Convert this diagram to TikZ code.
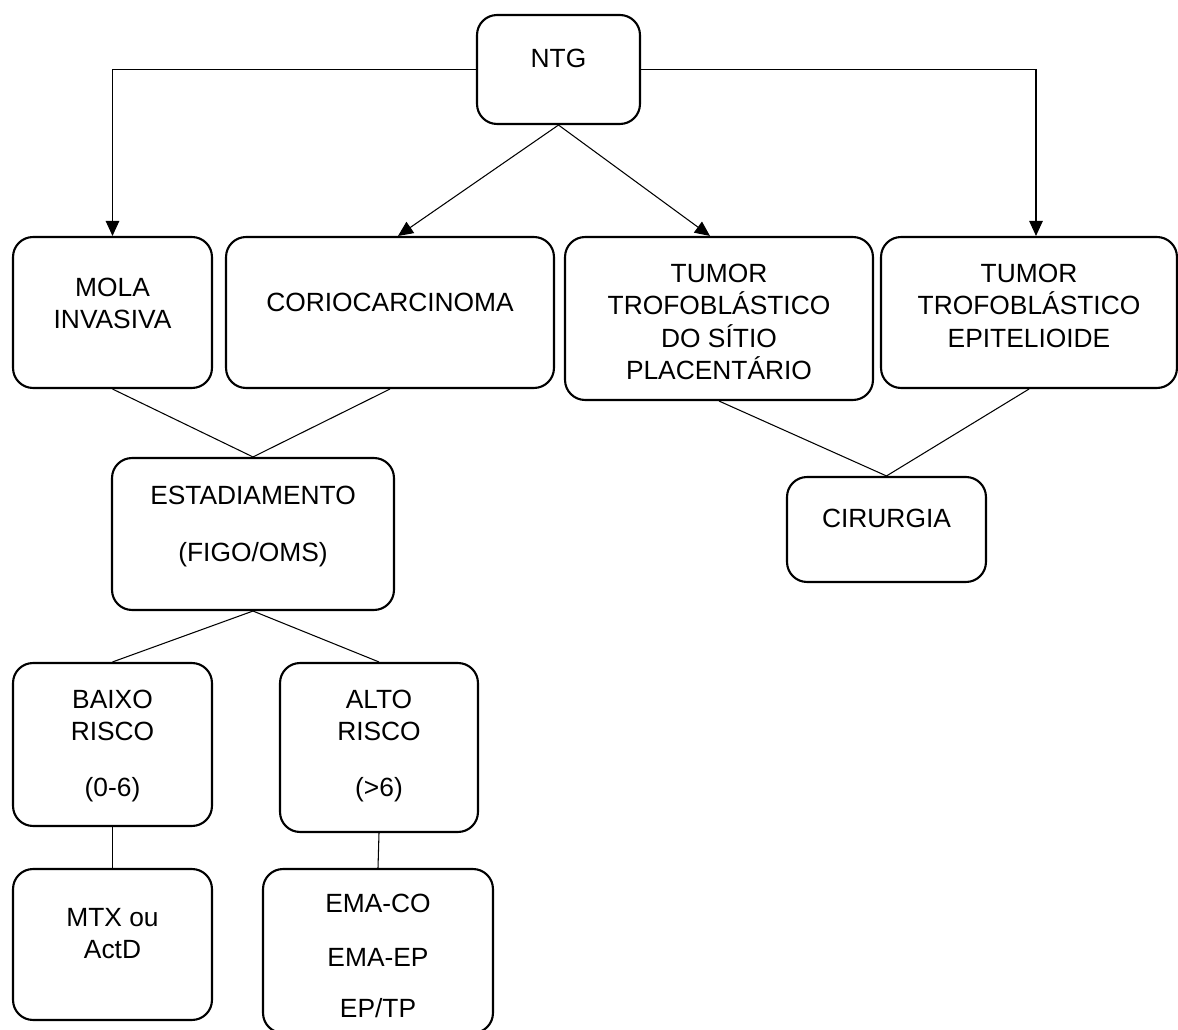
\documentclass[tikz,border=0pt]{standalone}
\usepackage{fontspec}
\setmainfont{Liberation Sans}
\usetikzlibrary{arrows.meta,calc}

\begin{document}
\begin{tikzpicture}[x=.02cm,y=-.02cm,>={Triangle[length=.3cm,width=.27cm]},line width=.6pt,every node/.style={font=\fontsize{15}{18.5}\selectfont},box/.style={draw,rounded corners=.4cm,line width=1.2pt,inner sep=0pt},txt/.style={anchor=north,align=center,inner sep=0pt}]
\path[use as bounding box] (0,0) rectangle (1178,1030);

% caixas
\node[box,minimum width=3.26cm,minimum height=2.18cm] (ntg) at (558.5,69.5) {};
\node[box,minimum width=3.98cm,minimum height=3.02cm] (mola) at (112.5,312.5) {};
\node[box,minimum width=6.56cm,minimum height=3.02cm] (corio) at (390,312.5) {};
\node[box,minimum width=6.16cm,minimum height=3.26cm] (sitio) at (719,318.5) {};
\node[box,minimum width=5.92cm,minimum height=3.02cm] (epit) at (1029,312.5) {};
\node[box,minimum width=5.64cm,minimum height=3.04cm] (estad) at (253,534) {};
\node[box,minimum width=3.98cm,minimum height=2.1cm] (cir) at (886.5,529.5) {};
\node[box,minimum width=3.98cm,minimum height=3.26cm] (baixo) at (112.5,744.5) {};
\node[box,minimum width=3.96cm,minimum height=3.38cm] (alto) at (379,747.5) {};
\node[box,minimum width=3.98cm,minimum height=3.02cm] (mtx) at (112.5,944.5) {};
\node[box,minimum width=4.6cm,minimum height=3.28cm] (ema) at (378,951) {};

% textos
\node[txt] (ntg-t) at (558.5,48.5) {NTG};
\node[txt] (mola-t) at (112.5,277.5) {MOLA\\INVASIVA};
\node[txt] (corio-t) at (390,292.5) {CORIOCARCINOMA};
\node[txt] (sitio-t) at (719,263.5) {TUMOR\\TROFOBLÁSTICO\\DO SÍTIO\\PLACENTÁRIO};
\node[txt] (epit-t) at (1029,263.5) {TUMOR\\TROFOBLÁSTICO\\EPITELIOIDE};
\node[txt] (estad-t) at (253,485.5) {ESTADIAMENTO\\[.49cm](FIGO/OMS)};
\node[txt] (cir-t) at (886.5,508.5) {CIRURGIA};
\node[txt] (baixo-t) at (112.5,689.5) {BAIXO\\RISCO\\[.47cm](0-6)};
\node[txt] (alto-t) at (379,689.5) {ALTO\\RISCO\\[.47cm](>6)};
\node[txt] (mtx-t) at (112.5,907.5) {MTX ou\\ActD};
\node[txt] (ema-t) at (378,893.5) {EMA-CO\\[.43cm]EMA-EP\\[.37cm]EP/TP};

% ligações
\draw[->] (ntg.west) -| (mola.north);
\draw[->] (ntg.east) -| ($(epit.north)+(7,0)$);
\draw[->] (ntg.south) -- ($(corio.north)+(8,0)$);
\draw[->] (ntg.south) -- ($(sitio.north)+(-9,0)$);
\draw (mola.south) -- (estad.north) -- (corio.south);
\draw (sitio.south) -- (cir.north) -- (epit.south);
\draw (baixo.north) -- (estad.south) -- (alto.north);
\draw (baixo.south) -- (mtx.north);
\draw (alto.south) -- (ema.north);

\end{tikzpicture}
\end{document}
